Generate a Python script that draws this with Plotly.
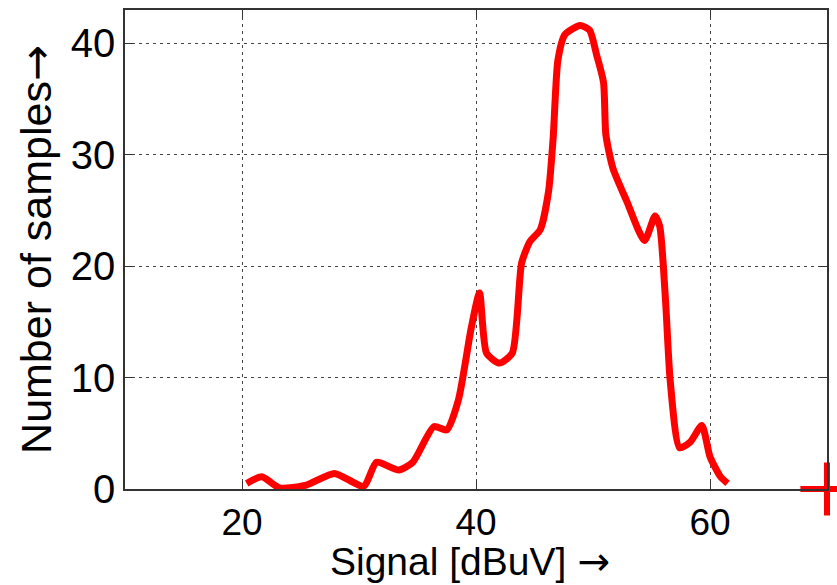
import plotly.graph_objects as go

signal = [20.4, 21.7, 23.2, 25.5, 27.9, 30.4, 31.5, 33.4, 34.6, 36.4, 37.5, 38.5, 39.6, 40.3,
          40.9, 42.0, 43.1, 43.9, 44.6, 45.5, 46.2, 46.6, 47.0, 47.6, 48.9, 49.7, 50.3, 50.9,
          51.1, 51.7, 52.9, 54.4, 55.3, 55.7, 56.2, 56.6, 57.4, 58.3, 59.3, 60.0, 60.9, 61.5]
samples = [0.5, 1.1, 0.1, 0.35, 1.4, 0.25, 2.4, 1.7, 2.4, 5.6, 5.3, 8.0, 14.5, 17.6,
           12.2, 11.3, 12.2, 20.3, 22.2, 23.3, 26.7, 31.6, 38.5, 40.8, 41.6, 41.2, 39.0, 36.5,
           31.8, 28.8, 25.8, 22.3, 24.5, 23.6, 16.9, 9.7, 3.7, 4.2, 5.7, 2.9, 1.1, 0.5]

marker_x = [70]
marker_y = [0]

fig = go.Figure()
fig.add_trace(go.Scatter(x=signal, y=samples, mode="lines",
                         line=dict(color="#ff0000", width=7, shape="spline", smoothing=0.6),
                         showlegend=False))
fig.add_trace(go.Scatter(x=marker_x, y=marker_y, mode="markers",
                         marker=dict(symbol="cross-thin", size=38, line=dict(color="#ff0000", width=6)),
                         cliponaxis=False, showlegend=False))

font = "Liberation Sans, Arial, sans-serif"
fig.update_layout(
    width=837, height=585,
    margin=dict(l=125, r=8, t=8, b=96),
    paper_bgcolor="white", plot_bgcolor="white",
    font=dict(family=font, color="black", size=38),
    xaxis=dict(range=[10, 70], tickvals=[20, 40, 60], showline=True, linecolor="#333",
               linewidth=1.5, mirror="allticks", ticks="inside", ticklen=8, tickcolor="#333",
               showgrid=True, gridcolor="#444", griddash="3px,4px", gridwidth=1.2,
               zeroline=False, tickfont=dict(size=37)),
    yaxis=dict(range=[0, 43], tickvals=[0, 10, 20, 30, 40], showline=True, linecolor="#333",
               linewidth=1.5, mirror="allticks", ticks="inside", ticklen=8, tickcolor="#333",
               showgrid=True, gridcolor="#444", griddash="3px,4px", gridwidth=1.2,
               zeroline=False, tickfont=dict(size=40),
               title=dict(text="Number of samples<span style='font-family:DejaVu Sans'>→</span>",
                          font=dict(size=43), standoff=6)),
    annotations=[dict(text="Signal [dBuV] <span style='font-family:DejaVu Sans'>→</span>",
                      xref="paper", yref="paper", x=0.492, y=0, xanchor="center", yanchor="bottom",
                      yshift=-96, borderpad=0, showarrow=False, font=dict(size=39))],
)
fig.write_html("out.html")
